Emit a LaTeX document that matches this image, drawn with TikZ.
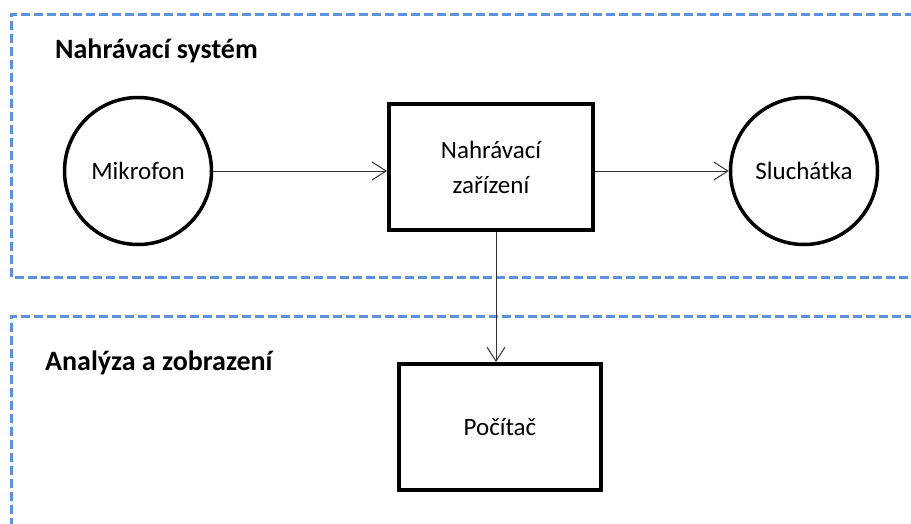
\documentclass[tikz,border=0pt]{standalone}
\usepackage{fontspec}
\setmainfont{Carlito}
\usetikzlibrary{arrows.meta}
\definecolor{ramecek}{RGB}{91,146,218}

\begin{document}
\begin{tikzpicture}[x=1pt,y=-1pt,
    kruh/.style={draw, circle, line width=3.5pt, minimum size=147pt, inner sep=0pt, font=\fontsize{25}{35}\selectfont},
    blok/.style={draw, rectangle, line width=4pt, inner sep=0pt, align=center, font=\fontsize{25}{35}\selectfont},
    oblast/.style={draw=ramecek, line width=3pt, dash pattern=on 9pt off 4pt},
    sipka/.style={-{Straight Barb[length=14pt,width=18pt]}, line width=1pt, black!80},
    nadpis/.style={anchor=base west, inner sep=0pt, font=\bfseries\fontsize{28}{34}\selectfont}]
    \clip (0, 0) rectangle (911, 523);

    % oblasti
    \draw[oblast] (940, 14) -- (11, 14) -- (11, 277) -- (940, 277);
    \draw[oblast] (940, 316) -- (11, 316) -- (11, 560);
    \node[nadpis] (system) at (55, 58) {Nahrávací systém};
    \node[nadpis] (analyza) at (45, 370) {Analýza a zobrazení};

    % prvky
    \node[kruh] (mikrofon) at (138, 171) {Mikrofon};
    \node[blok, minimum width=204pt, minimum height=126pt] (zarizeni) at (491, 167) {Nahrávací\\zařízení};
    \node[kruh] (sluchatka) at (804, 171) {Sluchátka};
    \node[blok, minimum width=202pt, minimum height=126pt] (pocitac) at (500, 427) {Počítač};

    % spoje
    \draw[sipka] (mikrofon.east) -- (mikrofon.east -| zarizeni.west);
    \draw[sipka] (mikrofon.east -| zarizeni.east) -- (sluchatka.west);
    \draw[sipka] ([xshift=5pt]zarizeni.south) -- ([xshift=5pt]zarizeni.south |- pocitac.north);
\end{tikzpicture}
\end{document}
